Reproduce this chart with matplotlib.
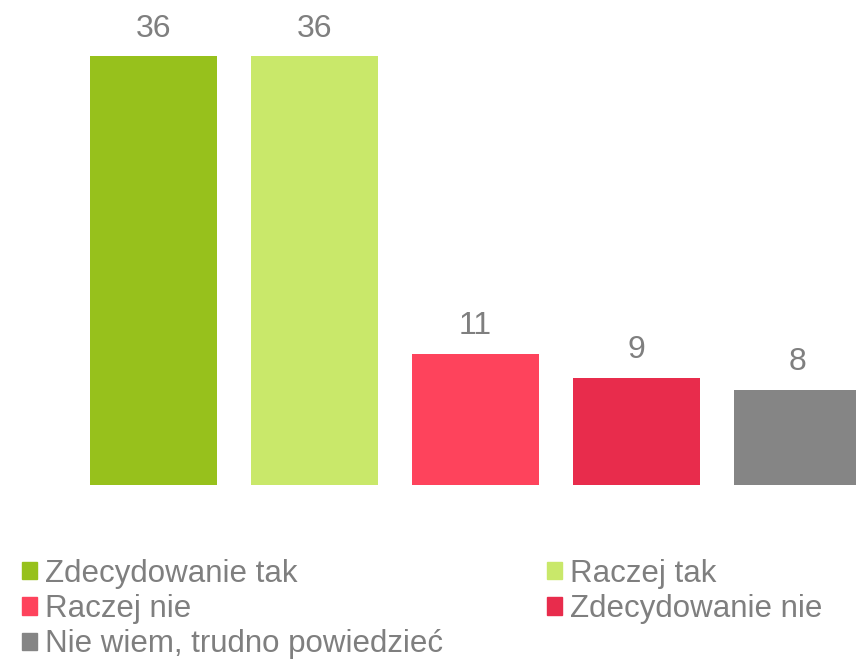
import numpy as np
import matplotlib
matplotlib.use("Agg")
import matplotlib.pyplot as plt
from matplotlib.patches import Patch

plt.rcParams['font.family'] = ['Liberation Sans', 'DejaVu Sans']

categories = ['Zdecydowanie tak', 'Raczej tak', 'Raczej nie',
              'Zdecydowanie nie', 'Nie wiem, trudno powiedzieć']
values = [36, 36, 11, 9, 8]
colors = ['#97c11c', '#c9e86a', '#fe435c', '#e82c4c', '#858585']
text_gray = '#7f7f7f'

fig = plt.figure(figsize=(8.56, 6.59), dpi=100)
ax = fig.add_axes([0, 0, 1, 1])

x = np.arange(len(values))
bars = ax.bar(x, values, width=0.79, color=colors)

for b, v in zip(bars, values):
    ax.annotate(str(v), (b.get_x() + b.get_width() / 2, v),
                xytext=(0, 9), textcoords='offset points',
                ha='center', va='bottom', fontsize=23, color=text_gray)

ax.set_xlim(-0.953, 4.363)
ax.set_ylim(-14.6, 40.7)
ax.axis('off')

# legend, row-major order like the original (matplotlib fills by column)
handles = [Patch(color=c, label=l) for c, l in zip(colors, categories)]
order = [0, 2, 4, 1, 3]
fig.legend([handles[i] for i in order], [categories[i] for i in order],
           ncol=2, loc='upper left', bbox_to_anchor=(0.0257, 0.152),
           frameon=False, fontsize=22.5, labelcolor=text_gray,
           handlelength=0.48, handleheight=0.48, handletextpad=0.26,
           labelspacing=0.17, columnspacing=3.33, borderpad=0, borderaxespad=0)

fig.savefig('out.png', dpi=100)
